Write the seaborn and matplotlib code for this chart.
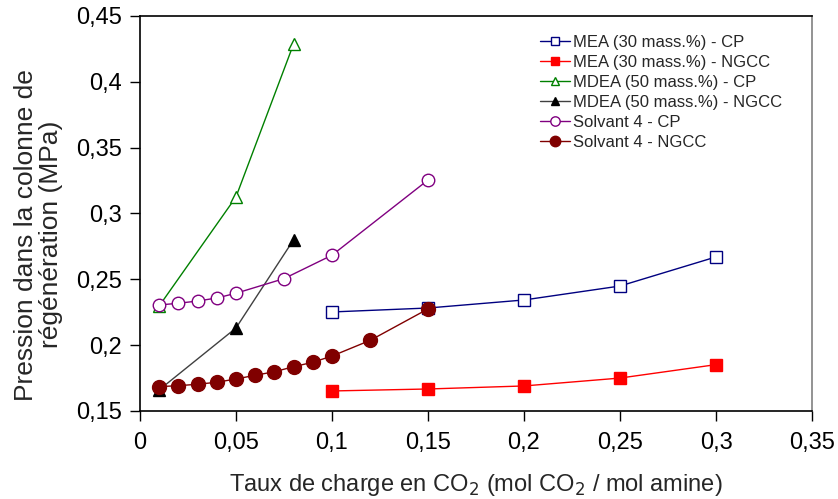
import numpy as np
import pandas as pd
import matplotlib
matplotlib.use('Agg')
import matplotlib.pyplot as plt
from matplotlib.ticker import FuncFormatter
import seaborn as sns

# donnees
x_mea = [0.10, 0.15, 0.20, 0.25, 0.30]
mea_cp = [0.2252, 0.2282, 0.2343, 0.2449, 0.2670]
mea_ngcc = [0.1652, 0.1667, 0.1690, 0.1750, 0.1852]

x_mdea = [0.01, 0.05, 0.08]
mdea_cp = [0.2297, 0.3125, 0.4287]
mdea_ngcc = [0.1660, 0.2130, 0.2800]

x_s4_cp = [0.01, 0.02, 0.03, 0.04, 0.05, 0.075, 0.10, 0.15]
s4_cp = [0.2305, 0.2318, 0.2335, 0.2358, 0.2394, 0.2505, 0.2683, 0.3254]

x_s4_ngcc = [0.01, 0.02, 0.03, 0.04, 0.05, 0.06, 0.07, 0.08, 0.09, 0.10, 0.12, 0.15]
s4_ngcc = [0.1685, 0.1692, 0.1703, 0.1718, 0.1743, 0.1771, 0.1798, 0.1836,
           0.1870, 0.1917, 0.2037, 0.2275]

sns.set_style('white')
plt.rcParams['font.family'] = ['Liberation Sans', 'DejaVu Sans']

fig = plt.figure(figsize=(8.38, 4.99), dpi=100)
ax = fig.add_axes([0.167, 0.1764, 0.802, 0.7916])

series = [
    ('MEA (30 mass.%) - CP', x_mea, mea_cp, '#000080', '#000080', 's', 'white', 8),
    ('MEA (30 mass.%) - NGCC', x_mea, mea_ngcc, '#ff0000', '#ff0000', 's', '#ff0000', 8),
    ('MDEA (50 mass.%) - CP', x_mdea, mdea_cp, '#008000', '#008000', '^', 'white', 8),
    ('MDEA (50 mass.%) - NGCC', x_mdea, mdea_ngcc, '#404040', 'black', '^', 'black', 8),
    ('Solvant 4 - CP', x_s4_cp, s4_cp, '#800080', '#800080', 'o', 'white', 9),
    ('Solvant 4 - NGCC', x_s4_ngcc, s4_ngcc, '#800000', '#800000', 'o', '#800000', 10),
]

for lab, xs, ys, lc, mc, mk, fc, ms in series:
    df = pd.DataFrame({'x': xs, 'y': ys})
    sns.lineplot(data=df, x='x', y='y', ax=ax, sort=False, color=lc, lw=1,
                 marker=mk, markersize=ms, markerfacecolor=fc,
                 markeredgecolor=mc, markeredgewidth=1, label=lab)

ax.set_xlim(0, 0.35)
ax.set_ylim(0.15, 0.45)
ax.set_xticks(np.arange(0, 0.351, 0.05))
ax.set_yticks(np.arange(0.15, 0.451, 0.05))
fmt = FuncFormatter(lambda v, p: ('%g' % round(v, 3)).replace('.', ','))
ax.xaxis.set_major_formatter(fmt)
ax.yaxis.set_major_formatter(fmt)
ax.tick_params(axis='both', direction='out', length=7, width=1,
               labelsize=17, colors='black', bottom=True, left=True)
ax.tick_params(axis='x', pad=8)
ax.tick_params(axis='y', pad=6)

for s in ['left', 'bottom', 'top']:
    ax.spines[s].set_color('black')
    ax.spines[s].set_linewidth(1.2)
ax.spines['right'].set_color('#808080')
ax.spines['right'].set_linewidth(1.2)

ax.set_xlabel('Taux de charge en CO$_2$ (mol CO$_2$ / mol amine)', fontsize=17, labelpad=13)
ax.set_ylabel('Pression dans la colonne de\nrégénération (MPa)', fontsize=19,
              linespacing=1.05)
ax.yaxis.set_label_coords(-0.115, 0.446)

leg = ax.legend(loc='upper left', bbox_to_anchor=(0.595, 0.952), frameon=False,
                fontsize=12, handlelength=1.8, handletextpad=0.2,
                labelspacing=0.3, borderaxespad=0, borderpad=0, markerscale=0.75)

fig.savefig('out.png', dpi=100)
